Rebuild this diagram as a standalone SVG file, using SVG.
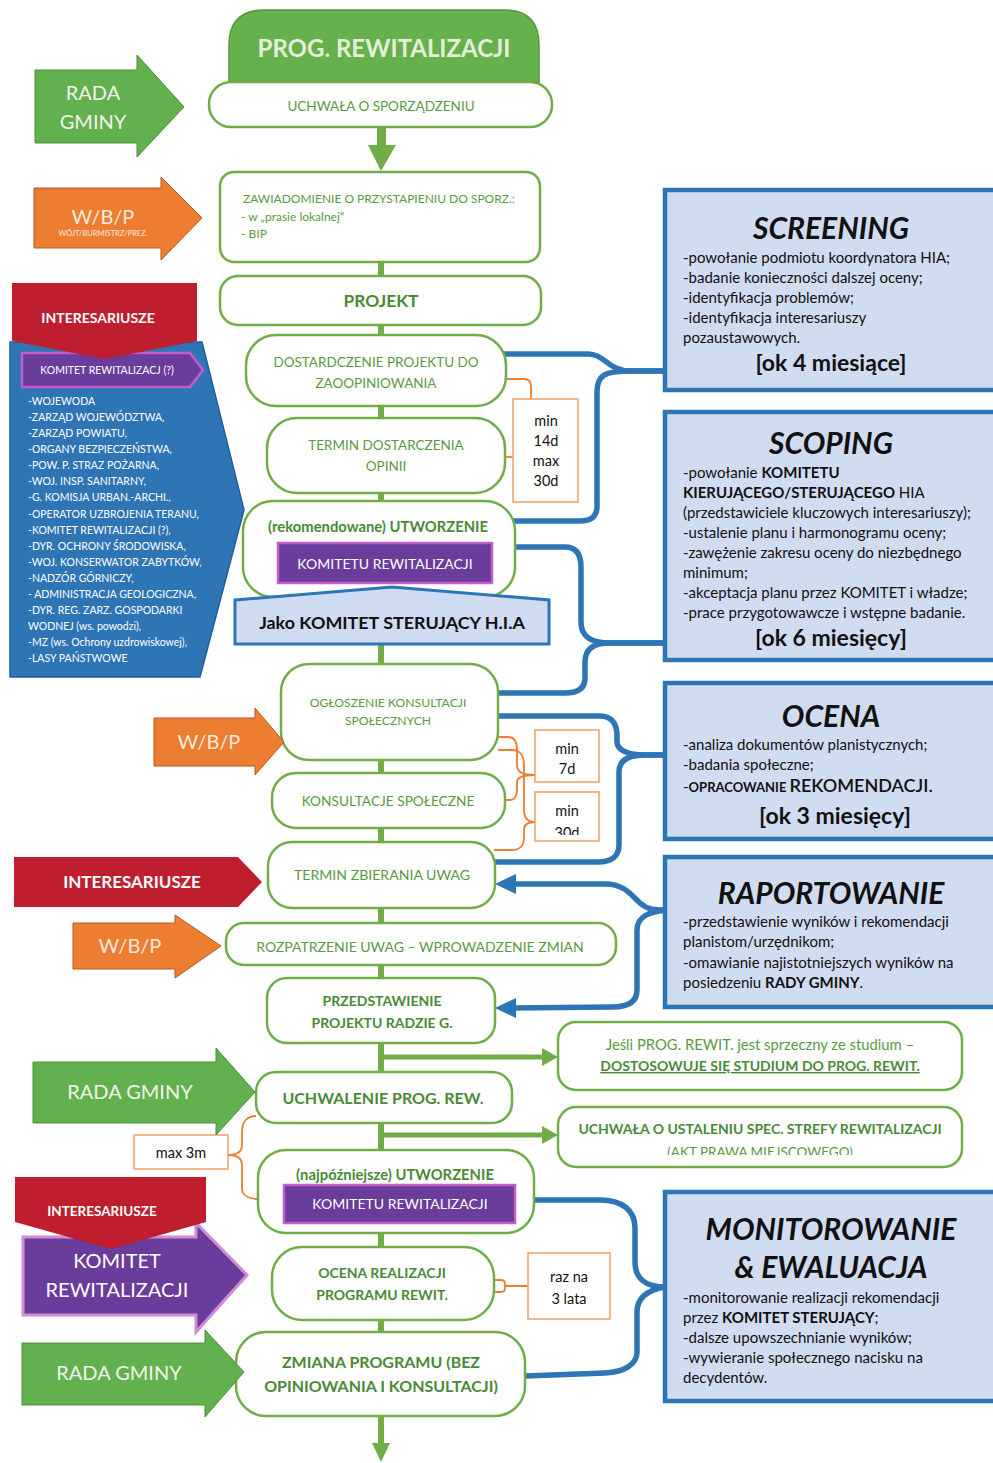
<svg xmlns="http://www.w3.org/2000/svg" width="993" height="1463" viewBox="0 0 993 1463">
<defs>
<style>
text{font-family:Lato,"Liberation Sans",sans-serif}
.fb{fill:#fff;stroke:#70AD47;stroke-width:2.5}
.ft{fill:#5a9a42;text-anchor:middle;font-size:13.5px}
.ftb{fill:#4a8a35;text-anchor:middle;font-size:14px;font-weight:bold}
.ob{fill:#fff;stroke:#F2A66A;stroke-width:1.6}
.ot{fill:#111;text-anchor:middle;font-size:14.5px}
.bb{fill:#D0DCEF;stroke:#2E75B6;stroke-width:4.5}
.bt{fill:#111;text-anchor:middle;font-size:30px;font-weight:bold;font-style:italic}
.bx{fill:#111;font-size:15px}
.bk{fill:#111;text-anchor:middle;font-size:23px;font-weight:bold}
.br{fill:none;stroke:#2E75B6;stroke-width:5.5;stroke-linecap:round;stroke-linejoin:round}
.obr{fill:none;stroke:#ED7D31;stroke-width:1.8}
.ga{fill:#63B04E;stroke:#4C8C3B;stroke-width:1}
.oa{fill:#ED7D31;stroke:#B4591F;stroke-width:1}
.ra{fill:#BE1E2D}
.pu{fill:#6A3C9C;stroke:#C35BC9;stroke-width:2.5}
.at{fill:#F0F5EC;text-anchor:middle;font-size:20px}
.wt{fill:#fff;text-anchor:middle;font-weight:bold}
.lt{fill:#fff;font-size:10.5px}
</style>
<clipPath id="c30"><rect x="535" y="792" width="64" height="43"/></clipPath>
<clipPath id="cakt"><rect x="558" y="1140" width="404" height="15"/></clipPath>
</defs>
<rect width="993" height="1463" fill="#fff"/>

<g id="connectors">
  <line x1="381" y1="262" x2="381" y2="1445" stroke="#70AD47" stroke-width="6"/>
  <polygon points="372,1443 390,1443 381,1462" fill="#70AD47"/>
  <path d="M377,125 H386 V145 H396 L381,171 L368,145 H377 Z" fill="#70AD47"/>
  <line x1="381" y1="1057" x2="545" y2="1057" stroke="#70AD47" stroke-width="5"/>
  <polygon points="542,1048 558,1057 542,1066" fill="#70AD47"/>
  <line x1="381" y1="1135" x2="545" y2="1135" stroke="#70AD47" stroke-width="5"/>
  <polygon points="542,1126 558,1135 542,1144" fill="#70AD47"/>
  <path class="br" d="M505,354 H588 C605,354 608,371 630,371 H665"/>
  <path class="br" d="M665,371 H630 C605,371 597,375 597,392 V506 C597,516 592,521 580,521 H512"/>
  <path class="br" d="M513,547 H565 C577,547 581,555 581,567 V622 C581,636 590,643 610,643 H665"/>
  <path class="br" d="M665,643 H610 C592,643 585,650 585,662 V678 C585,688 578,693 565,693 H497"/>
  <path class="br" d="M497,716 H600 C612,716 617,724 617,736 V742 C617,750 628,755 645,755 H665"/>
  <path class="br" d="M665,755 H645 C628,755 619,760 619,772 V845 C619,856 612,862 598,862 H494"/>
  <path class="br" d="M512,884 H605 C625,884 632,896 640,903 C648,910 655,910 665,910"/>
  <path class="br" d="M665,910 C650,912 637,916 637,930 V990 C637,1002 628,1007 612,1007 L512,1008"/>
  <polygon points="495,884 516,874 516,894" fill="#2E75B6"/>
  <polygon points="495,1008 516,998 516,1018" fill="#2E75B6"/>
  <path class="br" d="M532,1200 H600 C622,1200 635,1210 635,1228 V1262 C635,1278 645,1287 665,1287"/>
  <path class="br" d="M665,1287 C648,1290 637,1298 637,1312 V1352 C637,1364 625,1372 605,1373 L525,1376"/>
  <path class="obr" d="M507,379 H524 Q531,379 531,386 V399"/>
  <path class="obr" d="M505,457 H513"/>
  <path class="obr" d="M497,737 H508 C515,737 517,742 517,750 V765 C517,772 522,775 535,775"/>
  <path class="obr" d="M505,800 H510 C515,800 517,795 517,790 V782 C517,778 522,775 535,775"/>
  <path class="obr" d="M498,750 H512 C520,750 524,756 524,765 V810 C524,818 528,822 535,822"/>
  <path class="obr" d="M494,850 H512 C520,850 524,845 524,838 V830 C524,825 528,822 535,822"/>
  <path class="obr" d="M256,1116 C247,1116 242,1122 242,1132 V1145 C242,1152 236,1155 228,1155 C236,1155 242,1158 242,1165 V1188 C242,1195 248,1199 258,1199"/>
  <path class="obr" d="M494,1280 H501 Q505,1280 505,1284 V1286 H528 M494,1292 H501 Q505,1292 505,1288 V1286"/>
</g>

<g id="prog-header">
  <path d="M229,100 V45 Q229,10 264,10 H504 Q539,10 539,45 V100 Z" fill="#66B14C" stroke="#4E9A3A" stroke-width="1.5"/>
  <text x="384" y="57" text-anchor="middle" font-size="24" font-weight="bold" fill="#E2EFDA">PROG. REWITALIZACJI</text>
</g>
<g id="uchwala-sporz">
  <rect class="fb" x="209" y="82" width="343" height="45" rx="22"/>
  <text class="ft" x="381" y="111">UCHWAŁA O SPORZĄDZENIU</text>
</g>
<g id="zawiadomienie">
  <rect class="fb" x="220" y="172" width="320" height="90" rx="14"/>
  <text x="243" y="203" font-size="12" fill="#5a9a42">ZAWIADOMIENIE O PRZYSTAPIENIU DO SPORZ.:</text>
  <text x="241" y="221" font-size="12" fill="#5a9a42">- w „prasie lokalnej”</text>
  <text x="241" y="238" font-size="12" fill="#5a9a42">- BIP</text>
</g>
<g id="projekt">
  <rect class="fb" x="220" y="276" width="321" height="49" rx="18"/>
  <text class="ftb" x="381" y="307" style="font-size:17.4px">PROJEKT</text>
</g>
<g id="dostarczenie">
  <rect class="fb" x="246" y="335" width="260" height="71" rx="30"/>
  <text class="ft" x="376" y="367">DOSTARDCZENIE PROJEKTU DO</text>
  <text class="ft" x="376" y="388">ZAOOPINIOWANIA</text>
</g>
<g id="termin-opinii">
  <rect class="fb" x="267" y="418" width="238" height="75" rx="30"/>
  <text class="ft" x="386" y="450">TERMIN DOSTARCZENIA</text>
  <text class="ft" x="386" y="471">OPINII</text>
</g>
<g id="min14">
  <rect class="ob" x="513" y="399" width="65" height="103"/>
  <text class="ot" x="546" y="426">min</text>
  <text class="ot" x="546" y="446">14d</text>
  <text class="ot" x="546" y="466">max</text>
  <text class="ot" x="546" y="486">30d</text>
</g>
<g id="utworzenie-rek">
  <rect class="fb" x="243" y="501" width="272" height="96" rx="30"/>
  <text class="ftb" x="378" y="532" style="font-size:14.8px">(rekomendowane) UTWORZENIE</text>
  <rect class="pu" x="278" y="543" width="214" height="40"/>
  <text x="385" y="569" text-anchor="middle" font-size="14" fill="#fff">KOMITETU REWITALIZACJI</text>
</g>
<g id="jako">
  <polygon points="235,600 392,587 549,600 549,644 235,644" fill="#CEDBF0" stroke="#2E75B6" stroke-width="3"/>
  <text x="392" y="629" text-anchor="middle" font-size="17.9" font-weight="bold" fill="#111">Jako KOMITET STERUJĄCY H.I.A</text>
</g>
<g id="ogloszenie">
  <rect class="fb" x="281" y="664" width="217" height="96" rx="28"/>
  <text class="ft" x="388" y="707" style="font-size:12.2px">OGŁOSZENIE KONSULTACJI</text>
  <text class="ft" x="388" y="725" style="font-size:12.2px">SPOŁECZNYCH</text>
</g>
<g id="konsultacje">
  <rect class="fb" x="272" y="773" width="233" height="55" rx="24"/>
  <text class="ft" x="388" y="806" style="font-size:13.7px">KONSULTACJE SPOŁECZNE</text>
</g>
<g id="min7">
  <rect class="ob" x="535" y="730" width="64" height="52"/>
  <text class="ot" x="567" y="754">min</text>
  <text class="ot" x="567" y="774">7d</text>
</g>
<g id="min30">
  <rect class="ob" x="535" y="792" width="64" height="49"/>
  <text class="ot" x="567" y="816">min</text>
  <text class="ot" x="567" y="838" clip-path="url(#c30)">30d</text>
</g>
<g id="termin-uwag">
  <rect class="fb" x="268" y="842" width="227" height="66" rx="24"/>
  <text class="ft" x="382" y="880" style="font-size:14.1px">TERMIN ZBIERANIA UWAG</text>
</g>
<g id="rozpatrzenie">
  <rect class="fb" x="226" y="923" width="390" height="42" rx="18"/>
  <text class="ft" x="420" y="952" style="font-size:14px">ROZPATRZENIE UWAG – WPROWADZENIE ZMIAN</text>
</g>
<g id="przedstawienie">
  <rect class="fb" x="267" y="978" width="228" height="65" rx="20"/>
  <text class="ftb" x="382" y="1006">PRZEDSTAWIENIE</text>
  <text class="ftb" x="382" y="1028">PROJEKTU RADZIE G.</text>
</g>
<g id="jesli">
  <rect class="fb" x="558" y="1022" width="404" height="68" rx="18"/>
  <text class="ft" x="760" y="1050" style="font-size:14.8px">Jeśli PROG. REWIT. jest sprzeczny ze studium –</text>
  <text class="ftb" x="760" y="1071" text-decoration="underline">DOSTOSOWUJE SIĘ STUDIUM DO PROG. REWIT.</text>
</g>
<g id="uchwala-strefy">
  <rect class="fb" x="558" y="1107" width="404" height="60" rx="18"/>
  <text class="ftb" x="760" y="1134">UCHWAŁA O USTALENIU SPEC. STREFY REWITALIZACJI</text>
  <text class="ft" x="760" y="1157" clip-path="url(#cakt)">(AKT PRAWA MIEJSCOWEGO)</text>
</g>
<g id="uchwalenie">
  <rect class="fb" x="256" y="1072" width="256" height="51" rx="20"/>
  <text class="ftb" x="383" y="1104" style="font-size:16px">UCHWALENIE PROG. REW.</text>
</g>
<g id="max3m">
  <rect class="ob" x="134" y="1135" width="94" height="34"/>
  <text class="ot" x="181" y="1158">max 3m</text>
</g>
<g id="utworzenie-najp">
  <rect class="fb" x="258" y="1150" width="276" height="83" rx="28"/>
  <text class="ftb" x="395" y="1180" style="font-size:14.8px">(najpóźniejsze) UTWORZENIE</text>
  <rect class="pu" x="284" y="1185" width="231" height="38"/>
  <text x="400" y="1209" text-anchor="middle" font-size="14" fill="#fff">KOMITETU REWITALIZACJI</text>
</g>
<g id="ocena-realizacji">
  <rect class="fb" x="272" y="1247" width="222" height="73" rx="30"/>
  <text class="ftb" x="382" y="1278">OCENA REALIZACJI</text>
  <text class="ftb" x="382" y="1300">PROGRAMU REWIT.</text>
</g>
<g id="raz-na">
  <rect class="ob" x="528" y="1253" width="82" height="66"/>
  <text class="ot" x="569" y="1282">raz na</text>
  <text class="ot" x="569" y="1304">3 lata</text>
</g>
<g id="zmiana">
  <rect class="fb" x="236" y="1332" width="289" height="84" rx="30"/>
  <text class="ftb" x="381" y="1368" style="font-size:16px">ZMIANA PROGRAMU (BEZ</text>
  <text class="ftb" x="381" y="1392" style="font-size:16px">OPINIOWANIA I KONSULTACJI)</text>
</g>

<g id="rada-gminy-1">
  <polygon class="ga" points="35,70 137,70 137,55 184,107 137,157 137,143 35,143"/>
  <text class="at" x="93" y="100">RADA</text>
  <text class="at" x="93" y="129">GMINY</text>
</g>
<g id="wbp-1">
  <polygon class="oa" points="34,188 161,188 161,177 202,218 161,260 161,248 34,248"/>
  <text class="at" x="103" y="224" style="fill:#FDEBDD">W/B/P</text>
  <text x="103" y="236" text-anchor="middle" font-size="7.5" fill="#FDEBDD">WÓJT/BURMISTRZ/PREZ.</text>
</g>
<g id="interesariusze-panel">
  <polygon points="10,342 202,342 244,510 200,677 10,677" fill="#2E75B6" stroke="#1F5E9E" stroke-width="1.5"/>
  <polygon class="pu" points="22,353 190,353 203,370 190,387 22,387"/>
  <text x="107" y="374" text-anchor="middle" font-size="10.5" fill="#fff">KOMITET REWITALIZACJ (?)</text>
  <text class="lt" x="28" y="405">-WOJEWODA</text>
  <text class="lt" x="28" y="421">-ZARZĄD WOJEWÓDZTWA,</text>
  <text class="lt" x="28" y="437">-ZARZĄD POWIATU,</text>
  <text class="lt" x="28" y="453">-ORGANY BEZPIECZEŃSTWA,</text>
  <text class="lt" x="28" y="469">-POW. P. STRAZ POŻARNA,</text>
  <text class="lt" x="28" y="485">-WOJ. INSP. SANITARNY,</text>
  <text class="lt" x="28" y="501">-G. KOMISJA URBAN.-ARCHI.,</text>
  <text class="lt" x="28" y="517.5">-OPERATOR UZBROJENIA TERANU,</text>
  <text class="lt" x="28" y="533.5">-KOMITET REWITALIZACJI (?),</text>
  <text class="lt" x="28" y="549.5">-DYR. OCHRONY ŚRODOWISKA,</text>
  <text class="lt" x="28" y="565.5">-WOJ. KONSERWATOR ZABYTKÓW,</text>
  <text class="lt" x="28" y="581.5">-NADZÓR GÓRNICZY,</text>
  <text class="lt" x="28" y="598">- ADMINISTRACJA GEOLOGICZNA,</text>
  <text class="lt" x="28" y="614">-DYR. REG. ZARZ. GOSPODARKI</text>
  <text class="lt" x="28" y="630">WODNEJ (ws. powodzi),</text>
  <text class="lt" x="28" y="646">-MZ (ws. Ochrony uzdrowiskowej),</text>
  <text class="lt" x="28" y="662">-LASY PAŃSTWOWE</text>
</g>
<g id="interesariusze-1">
  <polygon class="ra" points="12,283 197,283 197,341 105,359 12,341"/>
  <text class="wt" x="98" y="323" font-size="14">INTERESARIUSZE</text>
</g>
<g id="wbp-2">
  <polygon class="oa" points="154,718 255,718 255,708 284,742 255,775 255,766 154,766"/>
  <text class="at" x="209" y="749" style="fill:#FDEBDD">W/B/P</text>
</g>
<g id="interesariusze-2">
  <polygon class="ra" points="14,857 238,857 262,882 238,907 14,907"/>
  <text class="wt" x="132" y="888" font-size="17">INTERESARIUSZE</text>
</g>
<g id="wbp-3">
  <polygon class="oa" points="73,923 175,923 175,915 221,946 175,978 175,969 73,969"/>
  <text class="at" x="130" y="953" style="fill:#FDEBDD">W/B/P</text>
</g>
<g id="rada-gminy-2">
  <polygon class="ga" points="33,1062 216,1062 216,1048 255,1092 216,1135 216,1123 33,1123"/>
  <text class="at" x="130" y="1099">RADA GMINY</text>
</g>
<g id="komitet-arrow">
  <polygon points="23,1237 196,1237 196,1223 247,1275 196,1332 196,1315 23,1315" fill="#6A3C9C" stroke="#D08BD3" stroke-width="3"/>
  <text class="at" x="117" y="1268" style="fill:#fff">KOMITET</text>
  <text class="at" x="117" y="1297" style="fill:#fff">REWITALIZACJI</text>
</g>
<g id="interesariusze-3">
  <polygon class="ra" points="15,1177 206,1177 206,1222 111,1249 15,1222"/>
  <text class="wt" x="102" y="1216" font-size="13.5">INTERESARIUSZE</text>
</g>
<g id="rada-gminy-3">
  <polygon class="ga" points="22,1343 205,1343 205,1330 244,1372 205,1417 205,1405 22,1405"/>
  <text class="at" x="119" y="1380">RADA GMINY</text>
</g>

<g id="screening">
  <rect class="bb" x="665" y="190" width="340" height="200"/>
  <text class="bt" x="831" y="239">SCREENING</text>
  <text class="bx" x="683" y="263">-powołanie podmiotu koordynatora HIA;</text>
  <text class="bx" x="683" y="283">-badanie konieczności dalszej oceny;</text>
  <text class="bx" x="683" y="303">-identyfikacja problemów;</text>
  <text class="bx" x="683" y="323">-identyfikacja interesariuszy</text>
  <text class="bx" x="683" y="343">pozaustawowych.</text>
  <text class="bk" x="831" y="371">[ok 4 miesiące]</text>
</g>
<g id="scoping">
  <rect class="bb" x="665" y="412" width="340" height="248"/>
  <text class="bt" x="831" y="454">SCOPING</text>
  <text class="bx" x="683" y="478">-powołanie <tspan font-weight="bold">KOMITETU</tspan></text>
  <text class="bx" x="683" y="498"><tspan font-weight="bold">KIERUJĄCEGO/STERUJĄCEGO</tspan> HIA</text>
  <text class="bx" x="683" y="518">(przedstawiciele kluczowych interesariuszy);</text>
  <text class="bx" x="683" y="538">-ustalenie planu i harmonogramu oceny;</text>
  <text class="bx" x="683" y="558">-zawężenie zakresu oceny do niezbędnego</text>
  <text class="bx" x="683" y="578">minimum;</text>
  <text class="bx" x="683" y="598">-akceptacja planu przez KOMITET i władze;</text>
  <text class="bx" x="683" y="618">-prace przygotowawcze i wstępne badanie.</text>
  <text class="bk" x="831" y="646">[ok 6 miesięcy]</text>
</g>
<g id="ocena">
  <rect class="bb" x="665" y="683" width="340" height="156"/>
  <text class="bt" x="831" y="727">OCENA</text>
  <text class="bx" x="683" y="750">-analiza dokumentów planistycznych;</text>
  <text class="bx" x="683" y="770">-badania społeczne;</text>
  <text class="bx" x="683" y="792">-<tspan font-weight="bold" font-size="13">OPRACOWANIE </tspan><tspan font-size="18" font-weight="600">REKOMENDACJI.</tspan></text>
  <text class="bk" x="835" y="824">[ok 3 miesięcy]</text>
</g>
<g id="raportowanie">
  <rect class="bb" x="665" y="857" width="340" height="150"/>
  <text class="bt" x="831" y="904">RAPORTOWANIE</text>
  <text class="bx" x="683" y="927">-przedstawienie wyników i rekomendacji</text>
  <text class="bx" x="683" y="947">planistom/urzędnikom;</text>
  <text class="bx" x="683" y="968">-omawianie najistotniejszych wyników na</text>
  <text class="bx" x="683" y="988">posiedzeniu <tspan font-weight="bold">RADY GMINY</tspan>.</text>
</g>
<g id="monitorowanie">
  <rect class="bb" x="665" y="1192" width="340" height="209"/>
  <text class="bt" x="831" y="1240">MONITOROWANIE</text>
  <text class="bt" x="831" y="1278">&amp; EWALUACJA</text>
  <text class="bx" x="683" y="1303">-monitorowanie realizacji rekomendacji</text>
  <text class="bx" x="683" y="1323">przez <tspan font-weight="bold">KOMITET STERUJĄCY</tspan>;</text>
  <text class="bx" x="683" y="1343">-dalsze upowszechnianie wyników;</text>
  <text class="bx" x="683" y="1363">-wywieranie społecznego nacisku na</text>
  <text class="bx" x="683" y="1383">decydentów.</text>
</g>
</svg>
